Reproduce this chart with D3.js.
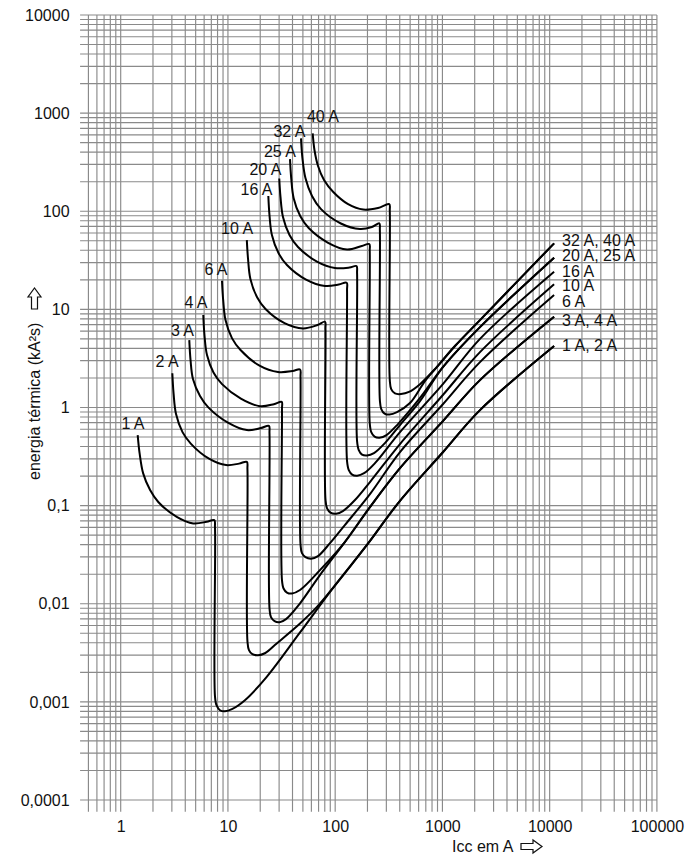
<!DOCTYPE html>
<html>
<head>
<meta charset="utf-8">
<script src="https://cdn.jsdelivr.net/npm/d3@7"></script>
<style>
  body { margin: 0; background: #fff; }
  text { font-family: "Liberation Sans", Arial, Helvetica, sans-serif; }
</style>
</head>
<body>
<div id="chart"></div>
<script>
// ---------------- data (Icc in A, let-through energy in kA²s) ----------------
const xTicks = [1, 10, 100, 1000, 10000, 100000];
const xTickLabels = ["1", "10", "100", "1000", "10000", "100000"];
const yTicks = [0.0001, 0.001, 0.01, 0.1, 1, 10, 100, 1000, 10000];
const yTickLabels = ["0,0001", "0,001", "0,01", "0,1", "1", "10", "100", "1000", "10000"];

const curve1A = [[1.44,0.524],[1.50,0.343],[1.62,0.213],[1.88,0.144],[2.24,0.109],[3.33,0.0769],[4.75,0.0659],[6.34,0.0684],[7.46,0.0711],[7.57,0.0604],[7.57,0.00114],[7.82,0.000925],[8.43,0.000822],[9.39,0.000803],[10.9,0.000843],[14.4,0.00104],[23.0,0.0018],[47.0,0.0051],[96.0,0.0146],[197,0.0395],[402,0.112],[1010,0.35],[2240,0.94],[11000,4.23]];
const curve2A = [[3.03,2.23],[3.11,1.40],[3.28,0.857],[3.77,0.561],[4.50,0.429],[6.66,0.301],[9.60,0.259],[12.7,0.268],[15.0,0.279],[15.2,0.235],[15.2,0.00416],[15.7,0.00337],[16.9,0.00306],[19.1,0.00299],[22.1,0.00313],[28.5,0.00394],[47.0,0.00629],[67.3,0.00923],[96.0,0.0146],[197,0.0395],[402,0.112],[1010,0.35],[2240,0.94],[11000,4.23]];
const curve3A = [[4.36,4.86],[4.48,3.04],[4.72,1.95],[5.49,1.31],[6.59,0.998],[10.0,0.702],[15.0,0.589],[20.3,0.617],[24.1,0.650],[24.4,0.548],[24.4,0.00902],[25.2,0.0073],[27.2,0.00665],[30.3,0.00649],[34.8,0.00697],[47.0,0.0101],[72.1,0.0196],[123,0.0425],[211,0.0966],[402,0.241],[1010,0.726],[2240,1.90],[11000,8.41]];
const curve4A = [[5.89,8.75],[6.04,5.47],[6.38,3.42],[7.33,2.27],[8.81,1.73],[13.2,1.23],[19.9,1.03],[26.8,1.08],[31.7,1.14],[31.9,0.964],[31.9,0.0174],[33.0,0.0143],[35.5,0.0130],[39.5,0.0127],[47.0,0.0138],[72.1,0.0220],[123,0.0425],[211,0.0966],[402,0.241],[1010,0.726],[2240,1.90],[11000,8.41]];
const curve6A = [[8.80,19.6],[9.03,12.4],[9.49,7.78],[10.9,5.09],[13.1,3.85],[19.7,2.67],[29.3,2.30],[40.0,2.35],[47.0,2.44],[47.5,2.04],[47.5,0.0405],[49.0,0.0328],[52.8,0.0299],[59.5,0.0288],[69.1,0.0306],[89.5,0.0415],[123,0.0633],[211,0.131],[402,0.351],[1010,1.08],[2240,2.90],[11000,14.0]];
const curve10A = [[15.0,50.8],[15.4,32.6],[16.2,20.4],[18.7,13.3],[22.4,10.1],[33.7,7.25],[50.1,6.40],[68.4,6.92],[80.4,7.48],[81.2,6.30],[81.2,0.116],[83.9,0.0944],[90.4,0.0849],[102,0.0828],[118,0.0879],[153,0.114],[211,0.174],[402,0.424],[1010,1.34],[2240,3.67],[11000,18.0]];
const curve16A = [[23.8,143],[24.4,91.4],[25.7,57.2],[29.6,37.5],[35.5,28.3],[53.5,20.1],[80.4,17.3],[108,17.9],[128,18.7],[129,15.7],[129,0.284],[134,0.230],[144,0.207],[160,0.202],[186,0.214],[235,0.271],[402,0.561],[1010,1.73],[2240,5.0],[11000,24.2]];
const curve20A = [[30.1,216],[30.9,140],[32.6,87.3],[37.5,57.2],[45.0,43.2],[67.6,30.7],[99.5,26.4],[136,26.7],[158,27.6],[160,23.4],[160,0.454],[166,0.368],[178,0.331],[198,0.324],[230,0.343],[291,0.434],[402,0.662],[618,1.16],[1010,2.58],[2240,6.6],[11000,33.6]];
const curve25A = [[37.9,340],[38.9,218],[41.0,136],[47.2,89.3],[56.6,67.4],[85.1,48.0],[129,40.7],[177,44.2],[208,46.3],[210,39.3],[210,0.693],[217,0.561],[233,0.505],[259,0.493],[301,0.524],[385,0.678],[618,1.25],[1010,2.58],[2240,6.6],[11000,33.6]];
const curve32A = [[48.0,553],[49.5,348],[52.8,218],[60.8,143],[73.8,105],[113,75.0],[170,65.9],[220,69.0],[258,75.3],[261,64.3],[261,1.19],[269,0.964],[289,0.867],[321,0.847],[377,0.897],[498,1.11],[687,1.86],[852,2.46],[1310,4.23],[2240,7.78],[11000,47.1]];
const curve40A = [[61.7,622],[64.1,421],[69.2,289],[78.7,208],[96.0,157],[132,118],[183,104],[251,108],[319,118],[323,100],[323,1.90],[333,1.54],[361,1.39],[411,1.37],[488,1.44],[618,1.73],[852,2.46],[1310,4.23],[2240,7.78],[11000,47.1]];

const curveNames = ["1 A", "2 A", "3 A", "4 A", "6 A", "10 A", "16 A", "20 A", "25 A", "32 A", "40 A"];
const curves = [curve1A, curve2A, curve3A, curve4A, curve6A, curve10A, curve16A, curve20A, curve25A, curve32A, curve40A];

// labels at the right end of the merged lines, and which curve they sit on
const endLabels = ["32 A, 40 A", "20 A, 25 A", "16 A", "10 A", "6 A", "3 A, 4 A", "1 A, 2 A"];
const endLabelCurve = [10, 8, 6, 5, 4, 3, 1];

// ---------------- layout ----------------
const width = 687, height = 865;
// label nudges in px (top labels: from first point; end labels: from last point)
const topLabelOffset = [[-4.7,-6.5],[-5.3,-6.8],[-6.8,-4.5],[-7.3,-7.2],[-6,-5.2],[-9.7,-6.5],[-11.8,-1.5],[-13.8,-3.8],[-10,-2.5],[-11.5,-1.8],[10.3,-11.8]];
const endLabelOffset = [[8,2.2],[8,2.8],[8,4.8],[8,6.2],[8,12.2],[8,8.8],[8,4.5]];

const svg = d3.select("#chart")
  .append("svg")
  .attr("width", width)
  .attr("height", height)
  .style("background-color", "white");

const x = d3.scaleLog().domain([1, 100000]).range([120.7, 656.9]);
const y = d3.scaleLog().domain([0.0001, 10000]).range([800, 15]);

const gridLeft = 0.418, gridBottom = 0.000076;

// grid values: 1..9 per decade
const decadeSteps = d3.range(1, 10);
const xGrid = [];
[0.1, 1, 10, 100, 1000, 10000].forEach(d => decadeSteps.forEach(s => { const v = d * s; if (v >= 0.5) xGrid.push(v); }));
xGrid.push(100000);
const yGrid = [];
[0.0001, 0.001, 0.01, 0.1, 1, 10, 100, 1000].forEach(d => decadeSteps.forEach(s => yGrid.push(d * s)));
yGrid.push(10000);

const grid = svg.append("g").attr("stroke", "#8a8a8a").attr("stroke-width", 1.15);
grid.selectAll(".vline").data(xGrid).join("line")
  .attr("class", "vline")
  .attr("x1", d => x(d)).attr("x2", d => x(d))
  .attr("y1", y(10000)).attr("y2", y(gridBottom));
grid.selectAll(".hline").data(yGrid).join("line")
  .attr("class", "hline")
  .attr("x1", x(gridLeft)).attr("x2", x(100000))
  .attr("y1", d => y(d)).attr("y2", d => y(d));

// axes (labels only)
const yAxis = svg.append("g")
  .attr("transform", `translate(${x(gridLeft)},0)`)
  .call(d3.axisLeft(y).tickValues(yTicks).tickFormat((d, i) => yTickLabels[i]).tickSize(0).tickPadding(10.5));
const xAxis = svg.append("g")
  .attr("transform", `translate(0,${y(gridBottom)})`)
  .call(d3.axisBottom(x).tickValues(xTicks).tickFormat((d, i) => xTickLabels[i]).tickSize(0).tickPadding(9));
[xAxis, yAxis].forEach(a => {
  a.select(".domain").remove();
  a.selectAll("text").attr("font-size", 16).attr("fill", "#111")
    .style("font-family", '"Liberation Sans", Arial, sans-serif');
});

// curves
const line = d3.line()
  .x(d => x(d[0]))
  .y(d => y(d[1]))
  .curve(d3.curveCatmullRom.alpha(0.5));

svg.append("g").selectAll("path").data(curves).join("path")
  .attr("d", line)
  .attr("fill", "none")
  .attr("stroke", "#000")
  .attr("stroke-width", 2)
  .attr("stroke-linejoin", "round");

// labels at curve starts
svg.append("g").selectAll("text").data(curves).join("text")
  .attr("x", (d, i) => x(d[0][0]) + topLabelOffset[i][0])
  .attr("y", (d, i) => y(d[0][1]) + topLabelOffset[i][1])
  .attr("text-anchor", "middle")
  .attr("font-size", 16)
  .attr("fill", "#111")
  .text((d, i) => curveNames[i]);

// labels at the line ends
svg.append("g").selectAll("text").data(endLabels).join("text")
  .attr("x", (d, i) => { const c = curves[endLabelCurve[i]]; return x(c[c.length - 1][0]) + endLabelOffset[i][0]; })
  .attr("y", (d, i) => { const c = curves[endLabelCurve[i]]; return y(c[c.length - 1][1]) + endLabelOffset[i][1]; })
  .attr("font-size", 16)
  .attr("fill", "#111")
  .text(d => d);

// hollow arrow used next to the axis titles
const arrowPath = "M0,-3 L12,-3 L12,-6.5 L21,0 L12,6.5 L12,3 L0,3 Z";

// x title
const xTitle = svg.append("g").attr("transform", "translate(452,852)");
xTitle.append("text").attr("font-size", 16).attr("fill", "#111").text("Icc em A");
xTitle.append("path").attr("d", arrowPath)
  .attr("transform", "translate(69,-5.5)")
  .attr("fill", "#fff").attr("stroke", "#111").attr("stroke-width", 1.2);

// y title
const yTitle = svg.append("g").attr("transform", "translate(40,480) rotate(-90)");
yTitle.append("text").attr("font-size", 16).attr("fill", "#111").text("energia térmica (kA²s)");
yTitle.append("path").attr("d", arrowPath)
  .attr("transform", "translate(171,-5.5)")
  .attr("fill", "#fff").attr("stroke", "#111").attr("stroke-width", 1.2);
</script>
</body>
</html>
